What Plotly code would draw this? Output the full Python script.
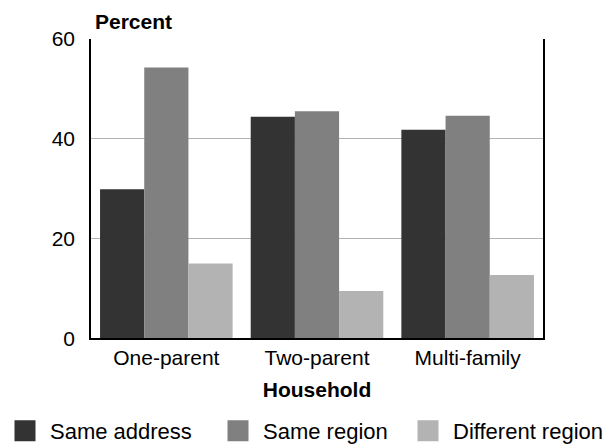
import plotly.graph_objects as go

categories = ["One-parent", "Two-parent", "Multi-family"]
series_names = ["Same address", "Same region", "Different region"]
same_address = [29.9, 44.4, 41.8]
same_region = [54.3, 45.5, 44.6]
different_region = [15.0, 9.5, 12.7]
y_ticks = [0, 20, 40, 60]

colors = ["#333333", "#808080", "#b3b3b3"]
values = [same_address, same_region, different_region]
legend_ids = ["legend", "legend2", "legend3"]

W, H = 611, 444
ML, MR, MT, MB = 91, 68, 39, 102
PH = H - MT - MB
PW = W - ML - MR
FONT = "Liberation Sans, Arial, sans-serif"

fig = go.Figure()
for name, vals, col, lg in zip(series_names, values, colors, legend_ids):
    fig.add_trace(go.Bar(x=categories, y=vals, name=name, marker=dict(color=col, line=dict(width=0)),
                         showlegend=False, legendgroup=name))
    # legend entry with a larger square symbol
    fig.add_trace(go.Scatter(x=[None], y=[None], mode="markers", name=name, legend=lg,
                             legendgroup=name,
                             marker=dict(symbol="square", size=16, color=col,
                                         line=dict(color=col, width=5))))

legend_px = [0, 213, 403]
leg_common = dict(orientation="h", xref="container", yref="container", xanchor="left",
                  yanchor="middle", y=1 - 431 / H, font=dict(family=FONT, size=22, color="black"),
                  bgcolor="rgba(0,0,0,0)", borderwidth=0, itemwidth=40)

layout_legends = {}
for lg, px in zip(legend_ids, legend_px):
    layout_legends[lg] = dict(leg_common, x=px / W)

fig.update_layout(
    width=W, height=H,
    margin=dict(l=ML, r=MR, t=MT, b=MB),
    paper_bgcolor="white", plot_bgcolor="white",
    font=dict(family=FONT, size=21, color="black"),
    barmode="group", bargap=0.12, bargroupgap=0,
    showlegend=True,
    xaxis=dict(showline=True, linecolor="black", linewidth=1.5, ticks="", showgrid=False,
               tickfont=dict(family=FONT, size=21, color="black"),
               title=dict(text="<b>Household</b>", font=dict(family=FONT, size=21, color="black"), standoff=14)),
    yaxis=dict(range=[0, 60], tickvals=y_ticks, showline=True, mirror=True, linecolor="black",
               linewidth=1.5, showgrid=True, gridcolor="#b3b3b3", gridwidth=1, zeroline=False,
               ticks="", ticklabelstandoff=10,
               tickfont=dict(family=FONT, size=21, color="black")),
    annotations=[dict(text="<b>Percent</b>", xref="paper", yref="paper", x=(133.5 - ML) / PW,
                      y=(H - MB - 21) / PH, xanchor="center", yanchor="middle", showarrow=False,
                      font=dict(family=FONT, size=21, color="black"))],
    **layout_legends,
)

fig.write_html("out.html", config={"displayModeBar": False},
               post_script="document.body.style.margin='0';document.body.style.padding='0';")
